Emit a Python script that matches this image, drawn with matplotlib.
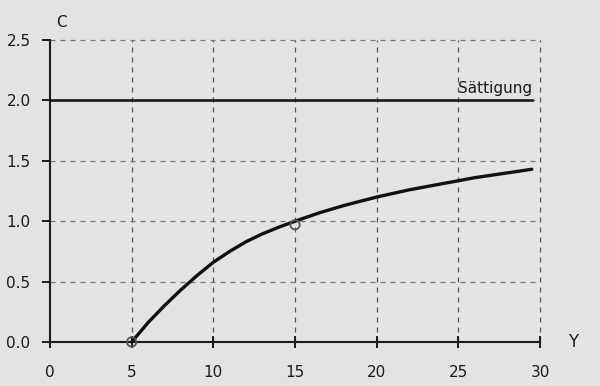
import matplotlib
matplotlib.use("Agg")
import matplotlib.pyplot as plt

# data
y_vals = [5, 6, 7, 8, 9, 10, 11, 12, 13, 14, 15, 16.5, 18, 20, 22, 24, 26, 28, 29.5]
c_vals = [0.0, 0.16, 0.30, 0.43, 0.55, 0.66, 0.75, 0.83, 0.895, 0.95, 1.0,
          1.07, 1.13, 1.2, 1.26, 1.31, 1.36, 1.40, 1.43]
saturation_level = 2.0
saturation_x = [0, 29.5]
marked_y = [5, 15]
marked_c = [0.0, 0.97]
x_ticks = [0, 5, 10, 15, 20, 25, 30]
y_ticks = [0.0, 0.5, 1.0, 1.5, 2.0, 2.5]
y_tick_labels = ["0.0", "0.5", "1.0", "1.5", "2.0", "2.5"]

bg = "#e3e3e1"
fig = plt.figure(figsize=(6.0, 3.86), dpi=100, facecolor=bg)
ax = fig.add_axes([50 / 600, 1 - 342 / 386, 490 / 600, 302 / 386])
ax.set_facecolor(bg)

ax.set_xlim(0, 30)
ax.set_ylim(0, 2.5)

for s in ["top", "right"]:
    ax.spines[s].set_visible(False)
for s in ["left", "bottom"]:
    ax.spines[s].set_linewidth(1.5)
    ax.spines[s].set_color("#1a1a1a")

ax.set_xticks(x_ticks)
ax.set_yticks(y_ticks)
ax.set_yticklabels(y_tick_labels)
ax.tick_params(axis="x", direction="inout", length=9, width=1.4, pad=12,
               labelsize=11, colors="#1a1a1a")
ax.tick_params(axis="y", direction="out", length=6, width=1.4, pad=8,
               labelsize=11, colors="#1a1a1a")

# dashed grid
for xv in x_ticks[1:]:
    ax.plot([xv, xv], [0, 2.5], ls=(0, (4, 4)), color="#555555", lw=0.9,
            zorder=1, clip_on=False)
for yv in y_ticks[1:]:
    ax.plot([0, 30], [yv, yv], ls=(0, (4, 4)), color="#777777", lw=0.9,
            zorder=1, clip_on=False)

# saturation line
ax.plot(saturation_x, [saturation_level, saturation_level], color="#1a1a1a",
        lw=1.9, zorder=3)
ax.text(29.5, saturation_level + 0.04, "Sättigung", ha="right", va="bottom",
        fontsize=11, color="#1a1a1a")

# curve
ax.plot(y_vals, c_vals, color="#111111", lw=2.4, zorder=4,
        solid_capstyle="round", solid_joinstyle="round", clip_on=False)
ax.scatter(marked_y, marked_c, s=45, facecolors="none", edgecolors="#555555",
           linewidths=1.3, zorder=5, clip_on=False)

# axis labels
ax.text(0.4, 2.58, "C", ha="left", va="bottom", fontsize=11, color="#1a1a1a")
ax.text(32.0, 0.0, "Y", ha="center", va="center", fontsize=12,
        color="#1a1a1a", clip_on=False)

fig.savefig("out.png", dpi=100, facecolor=bg)
